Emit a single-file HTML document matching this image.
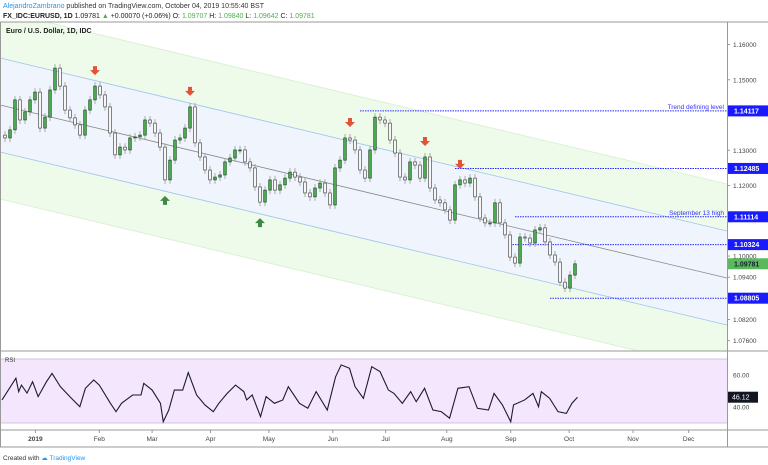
<!DOCTYPE html>
<html><head><meta charset="utf-8"><style>
html,body{margin:0;padding:0;background:#fff;width:768px;height:465px;overflow:hidden;font-family:"Liberation Sans",sans-serif}
svg text{font-family:"Liberation Sans",sans-serif}
</style></head><body>
<svg id="c" width="768" height="465" viewBox="0 0 768 465" xmlns="http://www.w3.org/2000/svg">
<text x="3" y="8" font-size="7" fill="#333"><tspan fill="#2196f3">AlejandroZambrano</tspan> published on TradingView.com, October 04, 2019 10:55:40 BST</text>
<text x="3" y="18" font-size="7" font-weight="bold" fill="#222">FX_IDC:EURUSD, 1D <tspan font-weight="normal">1.09781 <tspan fill="#4caf50">▲</tspan> +0.00070 (+0.06%) O: <tspan fill="#4caf50">1.09707</tspan> H: <tspan fill="#4caf50">1.09840</tspan> L: <tspan fill="#4caf50">1.09642</tspan> C: <tspan fill="#4caf50">1.09781</tspan></tspan></text>
<g id="main"></g>
<g id="rsi"></g>
<g id="frame">
<line x1="0" y1="22" x2="768" y2="22" stroke="#999" stroke-width="1"/>
<line x1="0" y1="351" x2="768" y2="351" stroke="#999"/>
<line x1="0" y1="430" x2="768" y2="430" stroke="#999"/>
<line x1="0" y1="447" x2="768" y2="447" stroke="#999"/>
<line x1="727.5" y1="22" x2="727.5" y2="447" stroke="#999"/>
<line x1="0.5" y1="22" x2="0.5" y2="447" stroke="#999"/>
</g>
<text x="6" y="33" font-size="7" font-weight="bold" fill="#222">Euro / U.S. Dollar, 1D, IDC</text>
<text x="5" y="362" font-size="6" fill="#333">RSI</text>
<text x="3" y="460" font-size="6.5" fill="#333">Created with <tspan fill="#2196f3">☁ TradingView</tspan></text>
</svg>
<script>
// ---- data ----
const closes=[1.1335,1.1358,1.1443,1.1386,1.1409,1.1443,1.1465,1.1363,1.1394,1.1471,1.1533,1.1482,1.1414,1.1392,1.1372,1.1343,1.1414,1.1443,1.1482,1.1457,1.1423,1.1349,1.1287,1.1309,1.1301,1.1335,1.1338,1.1343,1.1386,1.1377,1.1349,1.1309,1.1216,1.1272,1.1329,1.1335,1.1363,1.1423,1.1321,1.1281,1.1244,1.1216,1.1224,1.1230,1.1267,1.1278,1.1301,1.1301,1.1267,1.1250,1.1196,1.1153,1.1187,1.1216,1.1187,1.1202,1.1221,1.1238,1.1224,1.1210,1.1179,1.1168,1.1193,1.1207,1.1179,1.1145,1.1250,1.1272,1.1335,1.1329,1.1301,1.1244,1.1221,1.1301,1.1394,1.1386,1.1377,1.1329,1.1292,1.1224,1.1216,1.1267,1.1258,1.1221,1.1281,1.1193,1.1159,1.1151,1.1131,1.1102,1.1202,1.1216,1.1207,1.1221,1.1168,1.1108,1.1094,1.1094,1.1151,1.1094,1.1060,1.0997,1.0980,1.1054,1.1051,1.1037,1.1074,1.1080,1.1040,1.1003,1.0983,1.0926,1.0909,1.0946,1.0978];
const rsiDays=[0,5,6,7,9,11,13,16,18,21,25,28,30,33,35,39,41,43,47,50,51,54,57,58,60,62,65,67,70,73,76,78,81,84,87,88,90,93,95,98,101,103,107,110,113,117,120,122,125,127,130,133,136,139,141,144,147,149,152,155,158,161,164,168,171,175,177,180,183,184,188,191,193,194,197,200,203,205,207];
const rsiValues=[44.4,58,49.6,53.7,48.7,55.8,46.5,55.8,61,52.7,45.4,40.2,51.7,56.9,53.7,42.3,37.1,42.3,47.5,47.5,54.8,50.6,42.3,30.8,38.1,50.6,50.6,61.5,47.5,41.3,37.1,42.3,48.5,53.7,49.6,44.4,47.5,34,46.5,42.3,44.4,52.7,42.3,39.2,49.6,38.1,58.9,66.3,64.2,52.7,45.4,65.2,62.1,50.6,48.5,42.3,49.6,43.3,51.7,38.1,37.1,33,51.7,52.7,39.2,38.1,48.5,41.3,30.8,41.3,44.4,48.5,40.2,49.6,45.4,37.1,36,42.3,46.12];
const levels=[1.14117,1.12485,1.11114,1.10324,1.08805];
const levelStart=[71,90,102,101,109];
const levelNotes=["Trend defining level","","September 13 high","",""];
const priceTicks=[1.16,1.15,1.13,1.12,1.10,1.094,1.082,1.076];
const rsiTicks=[60,40];
const months=["2019","Feb","Mar","Apr","May","Jun","Jul","Aug","Sep","Oct","Nov","Dec"];
const monthDays=[12,35,54,75,96,119,138,160,183,204,227,247];
const downArrowIdx=[18,37,69,84,91];
const upArrowIdx=[32,51];
const lastPrice=1.09781;
// ---- scales ----
const py=p=>44.5+(1.16-p)*3526;
const cx=i=>5+5*i;
const dx=d=>2+2.78*d;
const ry=v=>375-(v-60)*1.6;
const NS="http://www.w3.org/2000/svg";
function mk(parent,tag,attrs){const e=document.createElementNS(NS,tag);for(const k in attrs)e.setAttribute(k,attrs[k]);parent.appendChild(e);return e;}
const main=document.getElementById('main'),rsi=document.getElementById('rsi');
const slope=(278-105)/728;
const ch=(y0)=>[y0,y0+slope*728];
const outerU=ch(11),upper=ch(58),mid=ch(105),lower=ch(152),outerL=ch(199);
let cp=mk(main,'clipPath',{id:'mc'});mk(cp,'rect',{x:0,y:22,width:727,height:329});
const g=mk(main,'g',{'clip-path':'url(#mc)'});
let p=mk(g,'polygon',{points:`0,${outerU[0]} 727,${outerU[1]} 727,${outerL[1]} 0,${outerL[0]}`,fill:'#effbea'});

p=mk(g,'polygon',{points:`0,${upper[0]} 727,${upper[1]} 727,${lower[1]} 0,${lower[0]}`,fill:'#f0f4fd'});

[[outerU,'#d5f0cc'],[outerL,'#d5f0cc'],[upper,'#9cc3ef'],[lower,'#9cc3ef'],[mid,'#888']].forEach(([l,c])=>{
 const e=mk(g,'line',{x1:0,y1:l[0],x2:727,y2:l[1],stroke:c,'stroke-width':0.8});
 
 
});
levels.forEach((lv,i)=>{
 const y=py(lv);
 const e=mk(g,'line',{x1:cx(levelStart[i]),y1:y,x2:727,y2:y,stroke:'#2a2aff','stroke-width':1,'stroke-dasharray':'1.5,1'});
 
 
 if(levelNotes[i]){const t=mk(g,'text',{x:724,y:y-2,'font-size':6.5,fill:'#3333ff','text-anchor':'end'});t.textContent=levelNotes[i];
  
  }
});
closes.forEach((c,i)=>{
 const o=i?closes[i-1]:c+0.0008;const x=cx(i);
 const top=Math.min(py(o),py(c)),bot=Math.max(py(o),py(c));
 const up=c>=o;
 const w=mk(g,'line',{x1:x,y1:top-4,x2:x,y2:bot+4,stroke:'#aaa','stroke-width':1});
 
 
 const r=mk(g,'rect',{x:x-1.3,y:top,width:2.6,height:Math.max(1,bot-top),fill:up?'#4caf50':'#fff',stroke:up?'#1b4d1e':'#444','stroke-width':0.7});
 
 
});
downArrowIdx.forEach(i=>{
 const x=cx(i);let hi=Math.min(...closes.slice(Math.max(0,i-1),i+2).map(py))-12;
 const a=mk(g,'path',{d:`M${x-2},${hi-8}h4v4h3l-5,5l-5,-5h3z`,fill:'#e2533a'});
 
 
});
upArrowIdx.forEach(i=>{
 const x=cx(i);let lo=Math.max(...closes.slice(Math.max(0,i-1),i+2).map(py))+16;
 const a=mk(g,'path',{d:`M${x-2},${lo+9}h4v-4h3l-5,-5l-5,5h3z`,fill:'#3d8b45'});
 
 
});
priceTicks.forEach(t=>{const y=py(t);
 const l=mk(main,'line',{x1:727,y1:y,x2:730,y2:y,stroke:'#999'});
 
 
 const tx=mk(main,'text',{x:733,y:y+2.5,'font-size':6.5,fill:'#444'});tx.textContent=t.toFixed(5);
 
 
});
function tag(parent,y,txt,fill,name){const r=mk(parent,'rect',{x:728,y:y-5.5,width:40,height:11,fill:fill});
 
 
 const t=mk(parent,'text',{x:734,y:y+2.5,'font-size':7,fill:fill==='#5cb85c'?'#123':'#fff','font-weight':'bold'});t.textContent=txt;
 
 }
levels.forEach(lv=>tag(main,py(lv),lv.toFixed(5),'#1a1aff','level-price-tag'));
tag(main,py(lastPrice),lastPrice.toFixed(5),'#5cb85c','last-price-tag');
let b=mk(rsi,'rect',{x:1,y:ry(70),width:726,height:ry(30)-ry(70),fill:'#f4e6fc'});


[70,30].forEach(v=>{const l=mk(rsi,'line',{x1:1,y1:ry(v),x2:727,y2:ry(v),stroke:'#c9b3da','stroke-width':0.8});
 
 });
const rl=mk(rsi,'polyline',{points:rsiDays.map((d,i)=>dx(d)+','+ry(rsiValues[i])).join(' '),fill:'none',stroke:'#1c1c2e','stroke-width':1.1});


rsiTicks.forEach(t=>{const y=ry(t);const tx=mk(rsi,'text',{x:733,y:y+2.5,'font-size':6.5,fill:'#444'});tx.textContent=t.toFixed(2);
 
 });
const lv=rsiValues[rsiValues.length-1];
const rr=mk(rsi,'rect',{x:728,y:ry(lv)-5.5,width:30,height:11,fill:'#131722'});


const rt=mk(rsi,'text',{x:732,y:ry(lv)+2.5,'font-size':7,fill:'#fff'});rt.textContent=lv.toFixed(2);


months.forEach((m,i)=>{const x=dx(monthDays[i]);
 const t=mk(rsi,'text',{x:x,y:441,'font-size':6.5,fill:'#444','text-anchor':'middle','font-weight':i===0?'bold':'normal'});t.textContent=m;
 
 
 const l=mk(rsi,'line',{x1:x,y1:430,x2:x,y2:433,stroke:'#999'});
 
 
});
</script>
</body></html>
